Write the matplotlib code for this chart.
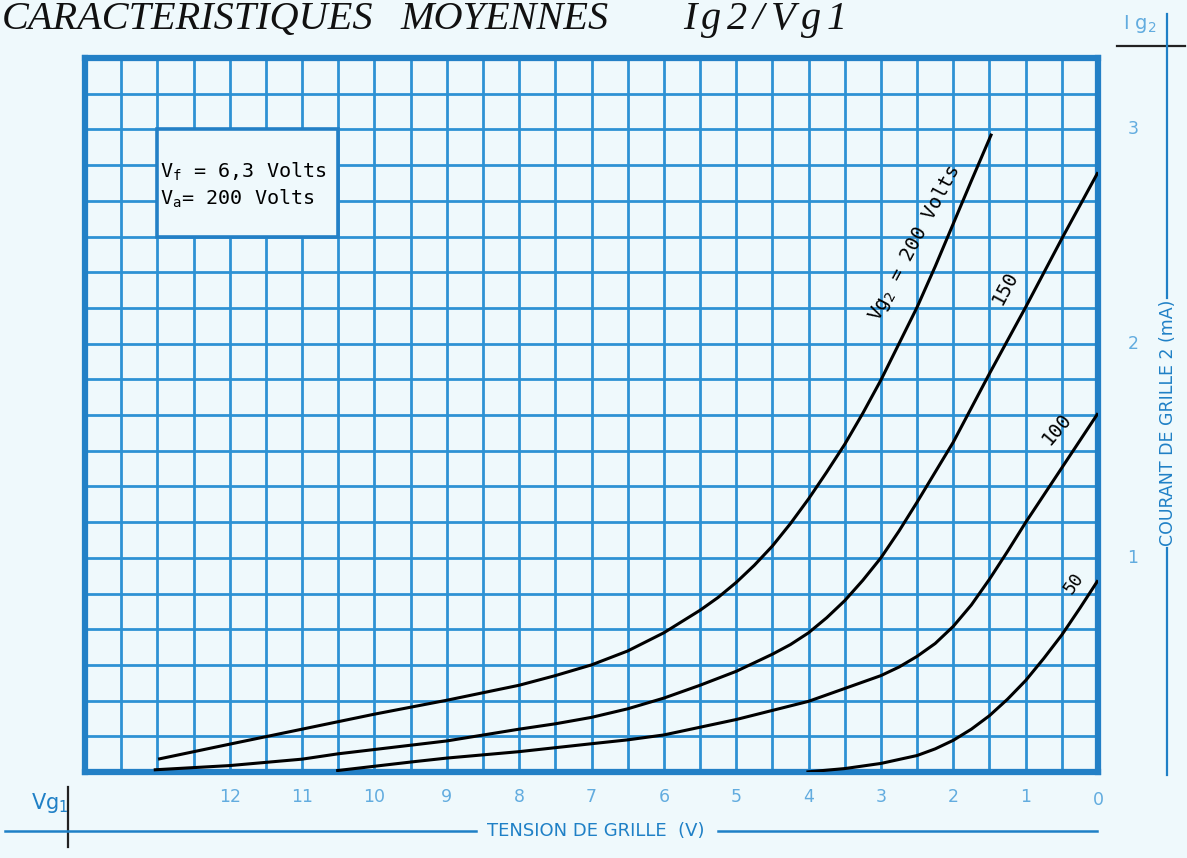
import numpy as np
import matplotlib
matplotlib.use("Agg")
import matplotlib.pyplot as plt
import matplotlib.transforms as mtransforms
from matplotlib.lines import Line2D
from matplotlib.patches import Rectangle

# --- data (Vg1 in volts, negative, Ig2 in mA) ---
vg1_200 = [12.99, 12.0, 11.0, 10.0, 9.0, 8.0, 7.5, 7.0, 6.5, 6.0, 5.5, 5.25, 5.0,
           4.75, 4.5, 4.25, 4.0, 3.75, 3.5, 3.25, 3.0, 2.75, 2.5, 2.25, 2.0,
           1.75, 1.47]
ig2_200 = [0.06, 0.13, 0.20, 0.27, 0.335, 0.405, 0.45, 0.50, 0.565, 0.65, 0.755,
           0.815, 0.885, 0.965, 1.055, 1.16, 1.275, 1.40, 1.53, 1.675, 1.83, 2.0,
           2.17, 2.36, 2.56, 2.76, 2.98]

vg1_150 = [13.05, 12.0, 11.0, 10.5, 10.0, 9.0, 8.0, 7.5, 7.0, 6.5, 6.0, 5.5, 5.0,
           4.5, 4.25, 4.0, 3.75, 3.5, 3.25, 3.0, 2.75, 2.5, 2.0, 1.5, 1.0, 0.5, 0.0]
ig2_150 = [0.01, 0.03, 0.06, 0.085, 0.105, 0.145, 0.20, 0.225, 0.255, 0.295, 0.345,
           0.405, 0.47, 0.55, 0.595, 0.65, 0.72, 0.80, 0.895, 1.00, 1.125, 1.26,
           1.54, 1.86, 2.17, 2.49, 2.80]

vg1_100 = [10.53, 9.46, 9.0, 8.0, 7.0, 6.5, 6.0, 5.0, 4.0, 3.0, 2.75, 2.5, 2.25,
           2.0, 1.75, 1.5, 1.25, 1.0, 0.5, 0.0]
ig2_100 = [0.006, 0.048, 0.065, 0.095, 0.132, 0.15, 0.173, 0.245, 0.33, 0.45,
           0.49, 0.54, 0.60, 0.68, 0.78, 0.90, 1.03, 1.165, 1.42, 1.675]

vg1_50 = [4.03, 3.5, 3.0, 2.5, 2.25, 2.0, 1.75, 1.5, 1.25, 1.0, 0.75, 0.5, 0.25, 0.0]
ig2_50 = [0.0, 0.016, 0.04, 0.077, 0.108, 0.148, 0.20, 0.263, 0.34, 0.427, 0.53,
          0.64, 0.765, 0.895]

x_ticks = [12, 11, 10, 9, 8, 7, 6, 5, 4, 3, 2, 1, 0]
x_tick_labels = [str(v) for v in x_ticks]
y_ticks = [1, 2, 3]
y_tick_labels = ["1", "2", "3"]

BG = "#eff9fc"
GRID = "#2e92d4"
FRAME = "#2380c6"
LIGHT = "#62acdf"
DARK = "#1f80c6"

W, H = 1187, 858
fig = plt.figure(figsize=(W / 100, H / 100), dpi=100)
fig.patch.set_facecolor(BG)


def fx(x):
    return x / W


def fy(y):
    return 1 - y / H


ax = fig.add_axes([fx(85), fy(772), (1098 - 85) / W, (772 - 58) / H])
ax.set_facecolor(BG)
ax.set_xlim(14, 0)
ax.set_ylim(0, 20 / 6)
ax.set_xticks(np.arange(0, 14.01, 0.5))
ax.set_yticks(np.arange(0, 20 / 6 + 0.01, 1 / 6))
ax.tick_params(length=0, labelbottom=False, labelleft=False)
ax.grid(True, color=GRID, lw=2.0)
ax.set_axisbelow(True)
for s in ax.spines.values():
    s.set_color(FRAME)
    s.set_linewidth(4.5)

# info box
ax.add_patch(Rectangle((10.5, 2.5), 2.5, 0.5, facecolor=BG, edgecolor=FRAME,
                       lw=2.6, zorder=1.5))
mono = ["DejaVu Sans Mono"]
ax.text(12.97, 2.80, r"V$_\mathregular{f}$ = 6,3 Volts", fontsize=14.5,
        family=mono, va="center", ha="left", zorder=3)
ax.text(12.97, 2.675, r"V$_\mathregular{a}$= 200 Volts", fontsize=14.5,
        family=mono, va="center", ha="left", zorder=3)

# curves
for v, i in [(vg1_200, ig2_200), (vg1_150, ig2_150), (vg1_100, ig2_100),
             (vg1_50, ig2_50)]:
    ax.plot(v, i, color="black", lw=2.2, solid_capstyle="butt",
            solid_joinstyle="round", zorder=4)

# curve labels
ax.text(2.53, 2.47, r"Vg$_\mathregular{2}$ = 200 Volts", fontsize=14, family=mono,
        rotation=62, ha="center", va="center", zorder=5)
ax.text(1.28, 2.26, "150", fontsize=14, family=mono, rotation=62,
        ha="center", va="center", zorder=5)
ax.text(0.57, 1.6, "100", fontsize=14, family=mono, rotation=50,
        ha="center", va="center", zorder=5)
ax.text(0.34, 0.88, "50", fontsize=13, family=mono, rotation=55,
        ha="center", va="center", zorder=5)

# tick labels
num_font = dict(family="DejaVu Sans", fontsize=12.5, color=LIGHT)
tx = mtransforms.blended_transform_factory(ax.transData, fig.transFigure)
for v, lab in zip(x_ticks, x_tick_labels):
    yy = 800 if v == 0 else 797
    fig.text(v, fy(yy), lab, transform=tx, ha="center", va="center", **num_font)
ty = mtransforms.blended_transform_factory(fig.transFigure, ax.transData)
for v, lab in zip(y_ticks, y_tick_labels):
    fig.text(fx(1133), v, lab, transform=ty, ha="center", va="center", **num_font)

# title
tfont = dict(family=["Liberation Serif", "DejaVu Serif"], style="italic",
             fontsize=29, color="#111111", va="baseline", ha="left")
fig.text(fx(2), fy(29), "CARACTERISTIQUES", **tfont)
fig.text(fx(400), fy(29), "MOYENNES", **tfont)
for ch, xp in zip("Ig2/Vg1", [683, 701, 727, 753, 771, 801, 827]):
    fig.text(fx(xp), fy(29), ch, **tfont)

# right axis decorations
fig.text(fx(1140), fy(24), r"I g$_\mathregular{2}$", color=LIGHT, fontsize=14,
         family="DejaVu Sans", ha="center", va="center")
fig.add_artist(Line2D([fx(1117), fx(1185)], [fy(46), fy(46)], color="#222222", lw=1.6))
fig.add_artist(Line2D([fx(1167), fx(1167)], [fy(14), fy(298)], color=DARK, lw=1.6))
fig.add_artist(Line2D([fx(1167), fx(1167)], [fy(548), fy(775)], color=DARK, lw=1.6))
fig.text(fx(1168), fy(423), "COURANT DE GRILLE 2 (mA)", rotation=90, color=DARK,
         fontsize=12.5, family="DejaVu Sans", ha="center", va="center")

# bottom axis decorations
fig.text(fx(50), fy(803), r"Vg$_\mathregular{1}$", color=DARK, fontsize=15,
         family="DejaVu Sans", ha="center", va="center")
fig.add_artist(Line2D([fx(68), fx(68)], [fy(787), fy(847)], color="#222222", lw=1.6))
fig.add_artist(Line2D([fx(5), fx(476)], [fy(831), fy(831)], color=DARK, lw=1.8))
fig.add_artist(Line2D([fx(718), fx(1097)], [fy(831), fy(831)], color=DARK, lw=1.8))
fig.text(fx(596), fy(831), "TENSION DE GRILLE  (V)", color=DARK, fontsize=13,
         family="DejaVu Sans", ha="center", va="center")

fig.savefig("out.png", dpi=100, facecolor=BG)
